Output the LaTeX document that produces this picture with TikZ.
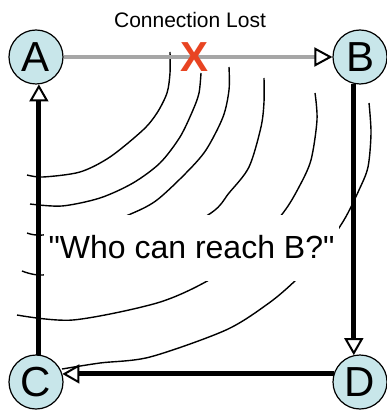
\documentclass[tikz,border=0pt]{standalone}
\usepackage{fontspec}
\setmainfont{Liberation Sans}[Ligatures=TeXOff]
\usetikzlibrary{arrows.meta, positioning}
\definecolor{hostfill}{RGB}{200,230,234}
\definecolor{lostred}{RGB}{232,68,34}
\definecolor{linkgray}{RGB}{166,166,166}

\begin{document}
\begin{tikzpicture}[x=1pt, y=-1pt,
        host/.style={circle, draw, line width=1.2pt, fill=hostfill, minimum size=54pt, inner sep=0pt, font=\fontsize{42}{42}\selectfont},
        link/.style={line width=5pt, -{Triangle[black, fill=white, length=17pt, width=19pt, line width=2pt]}},
        wave/.style={line width=1.4pt}]
        \useasboundingbox (0,0) rectangle (386,411);

        \node[host] (A) at (36,57) {A};
        \node[host] (B) at (360,57) {B};
        \node[host] (C) at (36,382) {C};
        \node[host] (D) at (360,382) {D};

        % wavefronts spreading out from A
        \draw[wave] plot[smooth] coordinates {(170,52) (170,73) (167,93) (157,113) (143,130) (110,157) (80,172) (43,177) (27,175)};
        \draw[wave] plot[smooth] coordinates {(201,73) (199,93) (193,110) (180,137) (160,163) (133,183) (100,198) (62,206) (30,204)};
        \draw[wave] plot[smooth] coordinates {(229,67) (229,90) (223,117) (206,150) (186,173) (157,200) (133,213) (95,227) (43,235) (27,233)};
        \draw[wave] plot[smooth] coordinates {(264,78) (264,102) (261,127) (249,167) (229,193) (211,213) (150,247) (90,265) (43,275) (22,271)};
        \draw[wave] plot[smooth] coordinates {(315,93) (317,120) (311,160) (299,187) (283,213) (250,250) (209,280) (157,303) (73,320) (17,315)};
        \draw[wave] plot[smooth] coordinates {(369,103) (371,133) (368,167) (359,190) (344,220) (320,255) (296,280) (269,303) (226,330) (150,357) (100,363) (62,369)};

        \node[fill=white, inner sep=0pt, minimum width=295pt, minimum height=66pt, font=\fontsize{32}{32}\selectfont] (query) at (191.5,247.5) {"Who can reach B?"};

        \node[font=\fontsize{21}{21}\selectfont] (lost) at (190,19.5) {Connection Lost};

        \draw[link, linkgray, line width=4.5pt, -{Triangle[black, fill=white, length=18pt, width=19pt, line width=2pt]}] (A) -- (B);
        \draw[link] (B.-103) -- (D.103);
        \draw[link] (D.163) -- (C.17);
        \draw[link] (C.84) -- (A.-84);

        \node[text=lostred, font=\bfseries\fontsize{42}{42}\selectfont] (cut) at (195,57) {X};
    \end{tikzpicture}
\end{document}
